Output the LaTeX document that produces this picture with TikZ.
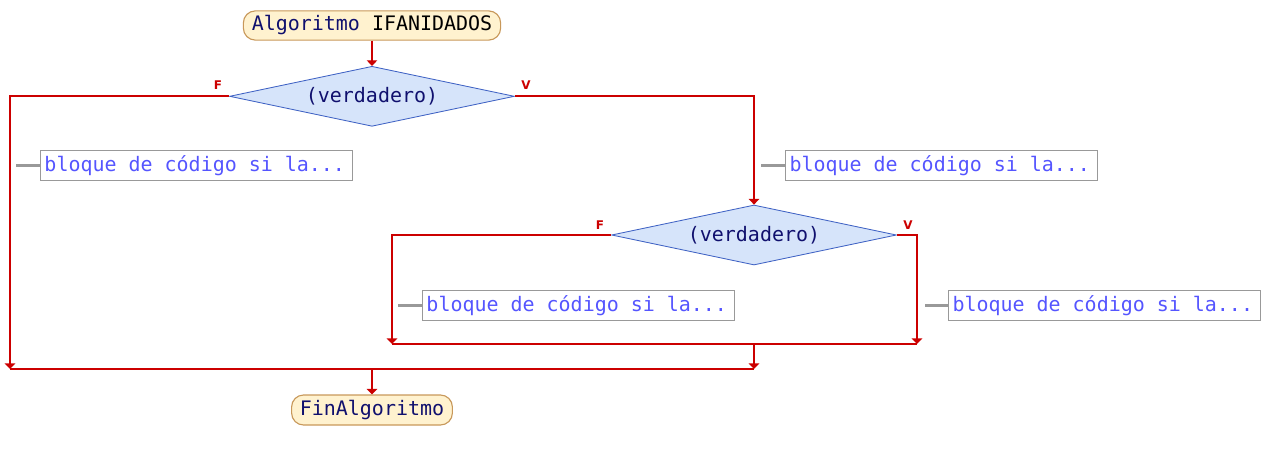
\documentclass[tikz,border=0pt]{standalone}
\usepackage{fontspec}
\setmonofont{DejaVu Sans Mono}
\setsansfont{DejaVu Sans}
\usetikzlibrary{positioning, arrows.meta, shapes.geometric, calc}
\definecolor{flowred}{HTML}{CC0000}
\definecolor{termfill}{HTML}{FFF2CF}
\definecolor{termdraw}{HTML}{C8985A}
\definecolor{decfill}{HTML}{D6E4FA}
\definecolor{decdraw}{HTML}{3F62C4}
\definecolor{navytext}{HTML}{10106E}
\definecolor{commtext}{HTML}{5555FF}
\definecolor{commgray}{HTML}{999999}
\newcommand{\Code}{\ttfamily\fontsize{14.2}{16}\selectfont}
\newcommand{\Comment}[1]{\makebox[7.6cm][l]{#1}}
\tikzset{
    terminal/.style={rounded corners=0.3cm, draw=termdraw, fill=termfill, line width=0.8pt,
        minimum width=6.43cm, minimum height=0.73cm, inner sep=0pt, font=\Code, text=navytext},
    decision/.style={diamond, draw=decdraw, fill=decfill, line width=0.6pt, aspect=4.75,
        inner sep=0pt, minimum width=7.12cm, minimum height=1.5cm, font=\Code, text=navytext},
    comment/.style={draw=commgray, fill=white, line width=0.7pt, anchor=west,
        minimum height=0.73cm, inner xsep=0.1cm, inner ysep=0pt,
        font=\Code, text=commtext},
    flow/.style={draw=flowred, line width=1.5pt},
    flowarrow/.style={flow, -{Triangle[length=4pt,width=7.5pt]}},
    commline/.style={draw=commgray, line width=1.6pt},
    branch/.style={text=flowred, font=\sffamily\bfseries\fontsize{8.5}{9}\selectfont, inner sep=0pt},
}

\begin{document}
\begin{tikzpicture}[x=0.025cm, y=-0.025cm]
    \useasboundingbox (0,0) rectangle (1270,460);

    % start and end
    \node[terminal] (start) at (372,25.5) {Algoritmo \textcolor{black}{IFANIDADOS}};
    \node[decision, below=0.63cm of start] (dec1) {(verdadero)};
    \node[decision] (dec2) at (754,235) {(verdadero)};
    \node[terminal, minimum width=4.02cm, minimum height=0.75cm] (fin) at (372,410) {FinAlgoritmo};

    % branch labels
    \node[branch] (f1) at (218,85) {F};
    \node[branch] (v1) at (526,85) {V};
    \node[branch] (f2) at (600,225) {F};
    \node[branch] (v2) at (908,225) {V};

    % comments
    \node[comment] (c1) at (40,165.5) {\Comment{bloque de código si la...}};
    \node[comment] (c2) at (785,165.5) {\Comment{bloque de código si la...}};
    \node[comment] (c3) at (422,305.5) {\Comment{bloque de código si la...}};
    \node[comment] (c4) at (948,305.5) {\Comment{bloque de código si la...}};
    \coordinate (c1s) at (16,165.5);
    \coordinate (c2s) at (761,165.5);
    \coordinate (c3s) at (398,305.5);
    \coordinate (c4s) at (925,305.5);
    \foreach \c in {c1,c2,c3,c4}
        \draw[commline] (\c s) -- (\c.west);

    % joins
    \coordinate (j1L) at (10,369);
    \coordinate (j1M) at (372,369);
    \coordinate (j1R) at (754,369);
    \coordinate (j2L) at (392,344);
    \coordinate (j2M) at (754,344);
    \coordinate (j2R) at (917,344);

    \draw[flowarrow] (start) -- (dec1);
    \draw[flowarrow] (dec1.west) -| (j1L);
    \draw[flowarrow] (dec1.east) -| (dec2.north);
    \draw[flowarrow] (dec2.west) -| (j2L);
    \draw[flowarrow] (dec2.east) -| (j2R);
    \draw[flow] (j2L) -- (j2R);
    \draw[flowarrow] (j2M) -- (j1R);
    \draw[flow] (j1L) -- (j1R);
    \draw[flowarrow] (j1M) -- (fin);
\end{tikzpicture}
\end{document}
